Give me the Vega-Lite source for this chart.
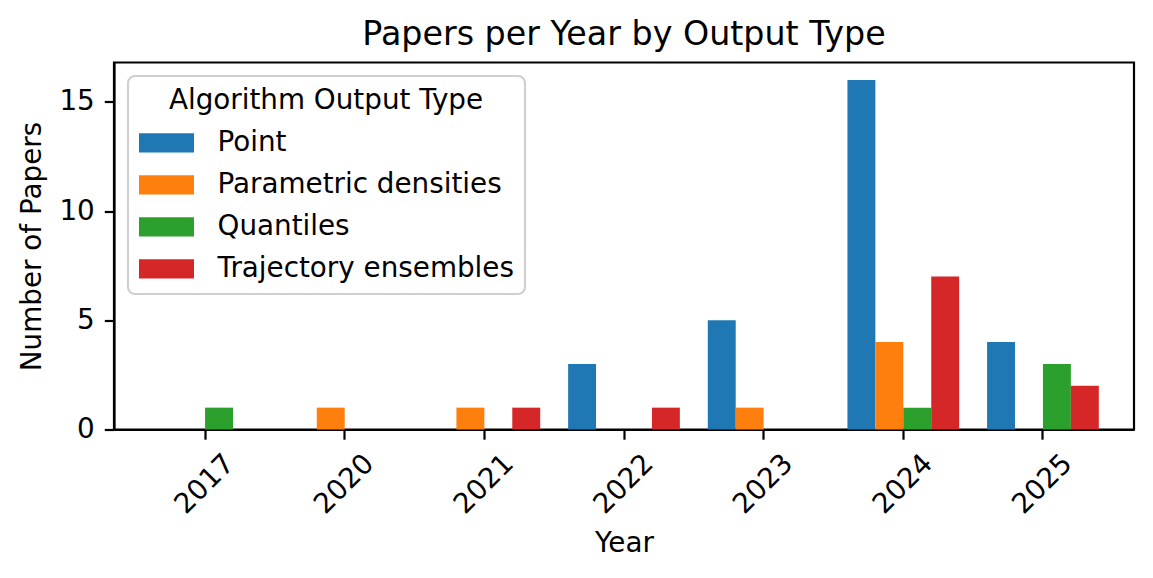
{
  "$schema": "https://vega.github.io/schema/vega-lite/v6.json",
  "width": 1020,
  "height": 367,
  "autosize": {"type": "none"},
  "padding": {"left": 114, "top": 62.5, "right": 19, "bottom": 148},
  "background": "white",
  "title": {"text": "Papers per Year by Output Type", "font": "DejaVu Sans", "fontSize": 33.3, "fontWeight": "normal", "color": "black", "baseline": "alphabetic", "offset": -15.5, "anchor": "middle"},
  "data": {"values": [
    {"year": "2017", "type": "Quantiles", "count": 1},
    {"year": "2020", "type": "Parametric densities", "count": 1},
    {"year": "2021", "type": "Parametric densities", "count": 1},
    {"year": "2021", "type": "Trajectory ensembles", "count": 1},
    {"year": "2022", "type": "Point", "count": 3},
    {"year": "2022", "type": "Trajectory ensembles", "count": 1},
    {"year": "2023", "type": "Point", "count": 5},
    {"year": "2023", "type": "Parametric densities", "count": 1},
    {"year": "2024", "type": "Point", "count": 16},
    {"year": "2024", "type": "Parametric densities", "count": 4},
    {"year": "2024", "type": "Quantiles", "count": 1},
    {"year": "2024", "type": "Trajectory ensembles", "count": 7},
    {"year": "2025", "type": "Point", "count": 4},
    {"year": "2025", "type": "Quantiles", "count": 3},
    {"year": "2025", "type": "Trajectory ensembles", "count": 2}
  ]},
  "mark": {"type": "bar"},
  "encoding": {
    "x": {
      "field": "year", "type": "nominal",
      "scale": {"domain": ["2017", "2020", "2021", "2022", "2023", "2024", "2025"], "paddingInner": 0, "paddingOuter": 0.152},
      "axis": {"title": "Year", "labelAngle": -45, "labelAlign": "center", "labelBaseline": "middle", "labelPadding": 45, "titlePadding": 11}
    },
    "xOffset": {
      "field": "type", "type": "nominal",
      "scale": {"domain": ["Point", "Parametric densities", "Quantiles", "Trajectory ensembles"], "paddingInner": 0, "paddingOuter": 0.5}
    },
    "y": {
      "field": "count", "type": "quantitative",
      "scale": {"domain": [0, 16.8], "nice": false, "zero": true},
      "axis": {"title": "Number of Papers", "values": [0, 5, 10, 15], "grid": false, "labelPadding": 10, "titlePadding": 12}
    },
    "color": {
      "field": "type", "type": "nominal",
      "scale": {"domain": ["Point", "Parametric densities", "Quantiles", "Trajectory ensembles"], "range": ["#1f77b4", "#ff7f0e", "#2ca02c", "#d62728"]},
      "legend": {
        "title": "Algorithm Output Type",
        "orient": "none", "legendX": 14, "legendY": 13.5,
        "symbolType": "M-2,-0.7H2V0.7H-2Z",
        "symbolSize": 756,
        "symbolOffset": 13.5,
        "symbolStrokeWidth": 0,
        "labelOffset": 37,
        "rowPadding": 14,
        "padding": 11,
        "titlePadding": 14,
        "titleAnchor": "middle",
        "strokeColor": "#d0d0d0",
        "cornerRadius": 7,
        "fillColor": "rgba(255,255,255,0.8)"
      }
    }
  },
  "config": {
    "font": "DejaVu Sans",
    "view": {"stroke": "black", "strokeWidth": 2.2},
    "axis": {
      "labelFont": "DejaVu Sans", "labelFontSize": 27.8, "labelColor": "black",
      "titleFont": "DejaVu Sans", "titleFontSize": 27.8, "titleFontWeight": "normal", "titleColor": "black",
      "tickColor": "black", "tickWidth": 2.2, "tickSize": 9.7,
      "domainColor": "black", "domainWidth": 2.2, "labelOverlap": false
    },
    "legend": {
      "strokeWidth": 2.2,
      "labelFont": "DejaVu Sans", "labelFontSize": 27.8, "labelColor": "black", "labelLimit": 1000,
      "titleFont": "DejaVu Sans", "titleFontSize": 27.8, "titleFontWeight": "normal", "titleColor": "black", "titleLimit": 1000
    }
  }
}
